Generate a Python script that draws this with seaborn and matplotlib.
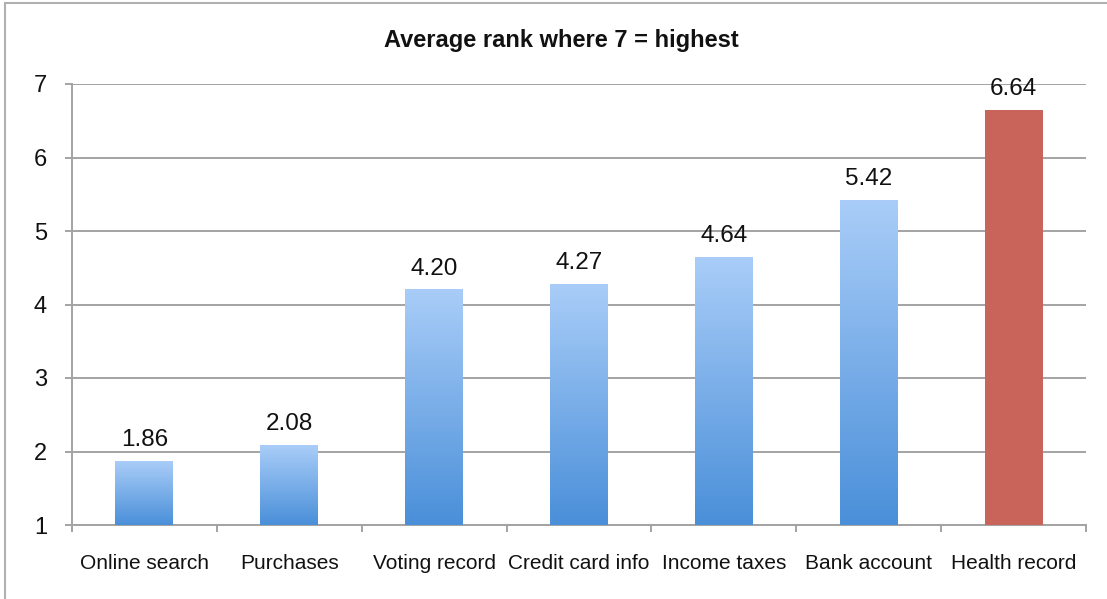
import matplotlib
matplotlib.use("Agg")
import matplotlib.pyplot as plt
from matplotlib.colors import LinearSegmentedColormap
from matplotlib.patches import Rectangle
import numpy as np
import pandas as pd
import seaborn as sns

categories = ['Online search', 'Purchases', 'Voting record', 'Credit card info',
              'Income taxes', 'Bank account', 'Health record']
avg_rank = [1.86, 2.08, 4.20, 4.27, 4.64, 5.42, 6.64]
value_labels = ['1.86', '2.08', '4.20', '4.27', '4.64', '5.42', '6.64']
highlight = 'Health record'

sns.set_style('white')
plt.rcParams['font.family'] = ['Liberation Sans', 'DejaVu Sans']

df = pd.DataFrame({'category': categories, 'rank': avg_rank})

fig = plt.figure(figsize=(11.07, 5.99), dpi=100)
ax = fig.add_axes([72/1107, 1 - 525/599, (1086-72)/1107, (525-84)/599])

sns.barplot(data=df, x='category', y='rank', color='#6fa6e6', width=0.4,
            saturation=1, ax=ax, zorder=3)

ax.set_ylim(1, 7)
ax.set_xlim(-0.5, len(categories) - 0.5)

# gradient fill for the blue bars, plain red for the highlighted one
blue = LinearSegmentedColormap.from_list('blu', ['#4a8fd9', '#a9cdf8'])
grad = np.linspace(0, 1, 256).reshape(-1, 1)
for patch, cat in zip(ax.patches, categories):
    x0, y0 = patch.get_x(), patch.get_y()
    w, h = patch.get_width(), patch.get_height()
    if cat == highlight:
        patch.set_facecolor('#c9645a')
        patch.set_edgecolor('none')
        continue
    patch.set_facecolor('none')
    patch.set_edgecolor('none')
    bottom = max(y0, 1)
    ax.imshow(grad, cmap=blue, aspect='auto', origin='lower',
              extent=[x0, x0 + w, bottom, y0 + h], zorder=3,
              interpolation='bilinear')

for i, (v, lab) in enumerate(zip(avg_rank, value_labels)):
    ax.text(i, v + 0.14, lab, ha='center', va='bottom', fontsize=17.5,
            color='#111111', zorder=4)

ax.set_yticks(range(1, 8))
ax.yaxis.grid(True, color='#a3a3a3', linewidth=1.4, zorder=0)
ax.set_axisbelow(True)
ax.set_xticks(np.arange(-0.5, len(categories), 1))
ax.set_xticklabels([])
ax.set_xticks(range(len(categories)), minor=True)
ax.set_xticklabels(categories, minor=True)
ax.tick_params(axis='x', which='major', length=5, width=1.4, color='#a3a3a3',
               direction='out', bottom=True)
ax.tick_params(axis='x', which='minor', length=0, pad=21, labelsize=15,
               labelcolor='#111111')
ax.tick_params(axis='y', length=5, width=1.4, color='#a3a3a3', direction='out',
               left=True, pad=13, labelsize=17, labelcolor='#111111')
ax.set_xlabel('')
ax.set_ylabel('')

for side in ['top', 'right']:
    ax.spines[side].set_visible(False)
for side in ['left', 'bottom']:
    ax.spines[side].set_color('#a3a3a3')
    ax.spines[side].set_linewidth(1.4)

fig.text(561/1107, 1 - 40/599, 'Average rank where 7 = highest', ha='center',
         va='center', fontsize=17, fontweight='bold', color='#111111')

# outer frame of the original chart box
fig.patches.append(Rectangle((5/1107, -0.05), 1.1, 1 - 3/599 + 0.05,
                             transform=fig.transFigure, fill=False,
                             edgecolor='#b0b0b0', linewidth=1.5))

fig.savefig('out.png', dpi=100)
